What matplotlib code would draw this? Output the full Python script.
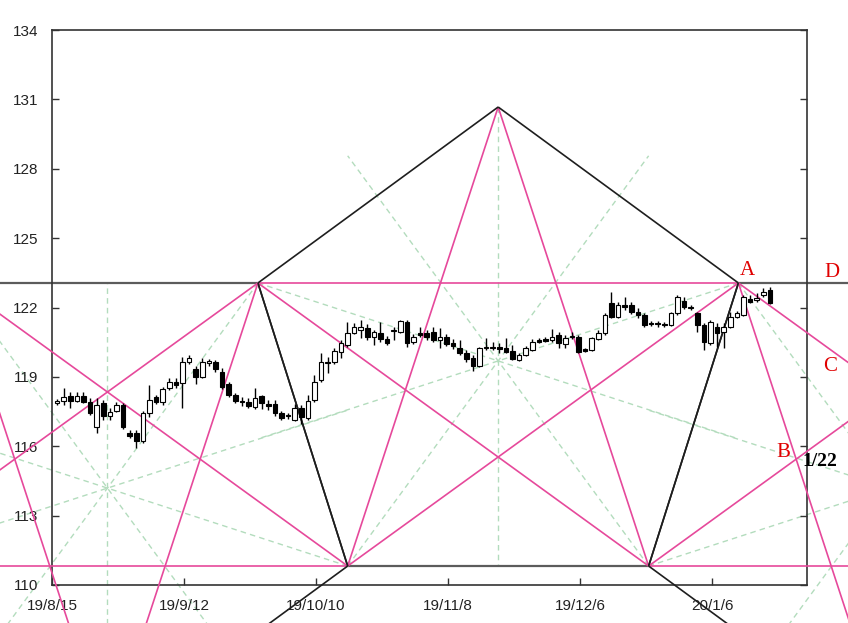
import numpy as np
import matplotlib.pyplot as plt

# tick labels (every 20 bars)
date_labels = ['19/8/15', '19/9/12', '19/10/10', '19/11/8', '19/12/6', '20/1/6']
price_ticks = [110, 113, 116, 119, 122, 125, 128, 131, 134]

# daily candles
opens = [117.87, 117.96, 118.17, 117.96, 118.17, 117.91, 116.83, 117.87, 117.30, 117.52,
         117.78, 116.57, 116.57, 116.23, 117.44, 118.13, 117.91, 118.52, 118.78, 118.73,
         119.64, 119.34, 118.99, 119.60, 119.64, 119.21, 118.69, 118.22, 117.96, 117.91,
         117.70, 118.17, 117.83, 117.83, 117.44, 117.35, 117.13, 117.65, 117.22, 118.00,
         118.86, 119.64, 119.64, 120.08, 120.38, 120.90, 121.03, 121.11, 120.72, 120.90,
         120.64, 120.98, 120.94, 121.37, 120.51, 120.90, 120.90, 120.94, 120.59, 120.72,
         120.46, 120.25, 120.03, 119.82, 119.47, 120.25, 120.29, 120.29, 120.25, 120.12,
         119.73, 119.95, 120.16, 120.59, 120.64, 120.59, 120.81, 120.42, 120.72, 120.72,
         120.21, 120.16, 120.64, 120.90, 122.19, 121.59, 122.11, 122.11, 121.81, 121.68,
         121.33, 121.33, 121.29, 121.24, 121.76, 122.28, 122.02, 121.76, 121.24, 120.46,
         121.16, 120.94, 121.16, 121.59, 121.68, 122.37, 122.32, 122.54, 122.76]
closes = [117.96, 118.13, 117.96, 118.17, 117.91, 117.44, 117.78, 117.30, 117.48, 117.78,
          116.83, 116.44, 116.23, 117.44, 118.00, 117.91, 118.48, 118.78, 118.65, 119.64,
          119.82, 118.99, 119.64, 119.69, 119.34, 118.56, 118.22, 117.96, 117.91, 117.74,
          118.09, 117.87, 117.74, 117.44, 117.22, 117.31, 117.65, 117.26, 117.96, 118.78,
          119.64, 119.60, 120.12, 120.46, 120.90, 121.16, 121.16, 120.72, 120.94, 120.64,
          120.46, 121.03, 121.42, 120.46, 120.72, 120.81, 120.72, 120.59, 120.72, 120.42,
          120.34, 120.03, 119.77, 119.47, 120.25, 120.29, 120.25, 120.21, 120.08, 119.77,
          119.95, 120.25, 120.51, 120.51, 120.55, 120.72, 120.46, 120.68, 120.77, 120.08,
          120.12, 120.68, 120.90, 121.68, 121.59, 122.11, 122.02, 121.81, 121.68, 121.24,
          121.29, 121.29, 121.24, 121.76, 122.45, 122.02, 121.98, 121.24, 120.51, 121.37,
          120.90, 121.16, 121.59, 121.76, 122.45, 122.24, 122.41, 122.67, 122.19]
highs = [118.04, 118.52, 118.35, 118.35, 118.35, 118.09, 118.09, 118.00, 117.65, 117.91,
         117.87, 116.70, 116.70, 117.52, 118.65, 118.22, 118.56, 118.95, 118.95, 119.86,
         119.95, 119.47, 119.82, 119.77, 119.73, 119.38, 118.78, 118.30, 118.13, 118.09,
         118.52, 118.22, 118.00, 118.00, 117.52, 117.44, 117.83, 117.78, 118.22, 119.08,
         120.03, 119.86, 120.25, 120.59, 121.37, 121.33, 121.46, 121.29, 121.03, 121.37,
         120.77, 121.16, 121.46, 121.46, 120.85, 121.16, 121.03, 121.16, 121.12, 120.85,
         120.64, 120.59, 120.16, 119.95, 120.29, 120.68, 120.51, 120.46, 120.68, 120.38,
         120.03, 120.34, 120.64, 120.68, 120.72, 121.07, 120.94, 120.81, 120.94, 120.81,
         120.25, 120.72, 121.03, 121.76, 122.67, 122.24, 122.45, 122.24, 121.98, 121.76,
         121.42, 121.42, 121.37, 121.81, 122.54, 122.45, 122.11, 121.81, 121.33, 121.46,
         121.33, 121.33, 121.81, 121.85, 122.54, 122.54, 122.63, 122.85, 122.89]
lows = [117.78, 117.78, 117.65, 117.91, 117.87, 117.35, 116.57, 117.13, 117.13, 117.48,
        116.75, 116.36, 115.92, 116.14, 117.26, 117.83, 117.78, 118.43, 118.52, 117.65,
        119.56, 118.69, 118.95, 119.47, 119.21, 118.48, 118.13, 117.87, 117.74, 117.65,
        117.61, 117.61, 117.57, 117.31, 117.13, 117.18, 117.09, 116.96, 117.13, 117.91,
        118.78, 119.17, 119.56, 119.82, 120.29, 120.85, 120.68, 120.59, 120.38, 120.51,
        120.38, 120.59, 120.90, 120.29, 120.42, 120.72, 120.59, 120.51, 120.25, 120.34,
        120.21, 119.95, 119.64, 119.26, 119.43, 120.16, 120.16, 120.03, 120.03, 119.73,
        119.69, 119.90, 120.12, 120.46, 120.51, 120.51, 120.25, 120.25, 120.64, 120.03,
        120.08, 120.12, 120.59, 120.81, 121.55, 121.55, 121.89, 121.72, 121.55, 121.16,
        121.20, 121.16, 121.16, 121.20, 121.68, 121.94, 121.89, 120.94, 120.16, 120.38,
        120.29, 120.25, 121.11, 121.55, 121.63, 122.19, 122.24, 122.45, 122.15]

# geometry of the drawing (bar units / price)
centre = 67.6          # bar position of the big top
half_period = 59.2
base_off = 22.8
shoulder_off = 36.4
level_hi = 123.06
level_lo = 110.82
peak = 130.67
star_mid = 119.69

pink = '#e6499b'
grey = '#5c5c5c'
green = '#b3dcbd'
dark = '#1e1e1e'

fig = plt.figure(figsize=(8.48, 6.23), dpi=100)
ax = fig.add_axes([52 / 848, 38 / 623, 755 / 848, 555 / 623])
ax.set_xlim(0, 755 / 6.6)
ax.set_ylim(110, 134)


def seg(p, q, **kw):
    ax.plot([p[0], q[0]], [p[1], q[1]], clip_on=False, solid_capstyle='butt', **kw)


def gann(c, top, shoulder, base, mid):
    sl, sr = (c - shoulder_off, shoulder), (c + shoulder_off, shoulder)
    bl, br = (c - base_off, base), (c + base_off, base)
    ap = (c, top)
    # green dashed star: each corner through the middle to its mirror point
    seg(ap, (c, base), color=green, lw=1, ls=(0, (4, 3)), zorder=1)
    for p in (sl, sr, bl, br):
        seg(p, (2 * c - p[0], 2 * mid - p[1]), color=green, lw=1, ls=(0, (4, 3)), zorder=1)
    seg(bl, br, color=grey, lw=1.6, zorder=2)
    seg(sl, sr, color=pink, lw=1.2, zorder=3)
    seg(ap, bl, color=pink, lw=1.2, zorder=3)
    seg(ap, br, color=pink, lw=1.2, zorder=3)
    seg(sl, br, color=pink, lw=1.2, zorder=3)
    seg(bl, sr, color=pink, lw=1.2, zorder=3)
    for p, q in ((sl, ap), (ap, sr), (sl, bl), (sr, br)):
        seg(p, q, color=dark, lw=1.2, zorder=3)


# upright pattern in the middle, mirrored ones either side
mirror = level_hi + level_lo
gann(centre, peak, level_hi, level_lo, star_mid)
for k in (-1, 1):
    gann(centre + k * half_period, mirror - peak, level_lo, level_hi, mirror - star_mid)

# candles
o = np.array(opens)
c = np.array(closes)
x = np.arange(len(o)) + 0.76
ax.vlines(x, lows, highs, color='black', lw=1, zorder=5)
up = c >= o
body = np.maximum(np.abs(c - o), 0.03)
ax.bar(x, body, bottom=np.minimum(o, c), width=0.7,
       color=np.where(up, 'white', 'black'), edgecolor='black', linewidth=0.8, zorder=6)

# labels
red = '#e00000'
serif = 'Liberation Serif'
ax.text(105.3, 123.58, 'A', color=red, fontsize=15, family=serif, ha='center', va='center')
ax.text(118.2, 123.53, 'D', color=red, fontsize=15, family=serif, ha='center', va='center')
ax.text(117.9, 119.47, 'C', color=red, fontsize=15, family=serif, ha='center', va='center')
ax.text(110.8, 115.75, 'B', color=red, fontsize=15, family=serif, ha='center', va='center')
ax.text(116.4, 115.36, '1/22', color='black', fontsize=14, family=serif,
        weight='bold', ha='center', va='center')

ax.set_xticks(np.arange(len(date_labels)) * 20)
ax.set_xticklabels(date_labels)
ax.set_yticks(price_ticks)
ax.tick_params(direction='in', length=5, width=1, right=True, labelsize=11,
               labelcolor='#222222', color='#333333')
ax.tick_params(axis='y', pad=10)
ax.tick_params(axis='x', pad=10)
for lab in ax.get_xticklabels() + ax.get_yticklabels():
    lab.set_family('Liberation Sans')
for s in ax.spines.values():
    s.set_color('#333333')
    s.set_linewidth(1.2)

fig.savefig('out.png', dpi=100)
